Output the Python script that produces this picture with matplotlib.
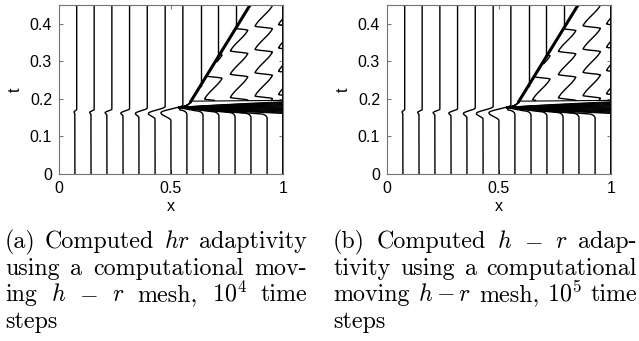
import numpy as np
import matplotlib
matplotlib.use("Agg")
import matplotlib.pyplot as plt

plt.rcParams['mathtext.fontset'] = 'cm'

# --------------------
# mesh data (x in [0,1], t in [0,0.45])
# --------------------
# node positions before the shock forms
x_start = [0.071, 0.143, 0.214, 0.286, 0.357, 0.429, 0.500,
           0.571, 0.643, 0.714, 0.786, 0.857, 0.929]
# first seven nodes survive the kink and sit here afterwards
x_after = [0.079, 0.157, 0.236, 0.315, 0.394, 0.474, 0.553]
t_kink_lo = [0.160, 0.158, 0.156, 0.154, 0.150, 0.146, 0.142]
t_kink_mid = [0.165, 0.164, 0.163, 0.162, 0.161, 0.161, 0.163]
t_kink_hi = [0.172, 0.172, 0.173, 0.174, 0.176, 0.180, 0.184]
kink_dip = [0.004, 0.006, 0.008, 0.010, 0.016, 0.030, 0.045]
# remaining six bend left into the band
t_bend = [0.158, 0.156, 0.154, 0.152, 0.150, 0.148]
bend_r = 0.03
bend_h = 0.012
# band of clustered nodes, all meeting at the tip
band_tip = (0.535, 0.177)
band_t_right = [0.161, 0.1625, 0.164, 0.1655, 0.167, 0.1685, 0.170, 0.1715,
                0.173, 0.1745, 0.176, 0.1775, 0.179, 0.1805, 0.182, 0.1835,
                0.185, 0.1865, 0.188, 0.1895, 0.191, 0.1925]
top_line_x = [0.60, 1.0]
top_line_t = [0.194, 0.196]
# shock path
shock_x = [0.585, 0.853]
shock_t = [0.190, 0.450]
foot_t = [0.190, 0.193, 0.196, 0.200, 0.205]
# nodes born behind the shock
x_behind = [0.632, 0.710, 0.789]
# zigzag nodes ahead of the shock
zig_left = [0.65, 0.765, 0.875, 0.98]
zig_width = 0.078
zig_period = 0.062
zig_phase_a = [0.200, 0.204, 0.208, 0.212]
zig_phase_b = [0.198, 0.203, 0.209, 0.214]

x_ticks = [0, 0.5, 1]
x_tick_labels = ['0', '0.5', '1']
y_ticks = [0, 0.1, 0.2, 0.3, 0.4]
y_tick_labels = ['0', '0.1', '0.2', '0.3', '0.4']

caption_a = [("(a) Computed $hr$ adaptivity", True),
             ("using a computational mov-", True),
             ("ing $h$ $-$ $r$ mesh, $10^4$ time", True),
             ("steps", False)]
caption_b = [("(b) Computed $h$ $-$ $r$ adap-", True),
             ("tivity using a computational", True),
             ("moving $h-r$ mesh, $10^5$ time", True),
             ("steps", False)]

LW = 1.0
W, H = 639, 341
TMAX = 0.45


def smooth(s):
    return 0.5 - 0.5 * np.cos(np.pi * np.clip(s, 0, 1))


def shock_at(t):
    return np.interp(t, shock_t, shock_x)


def draw_mesh(ax, zig_phase):
    tt = np.linspace(0, TMAX, 2500)

    # nodes with a small kink
    for x0, x1, ta, tb, tc, d in zip(x_start[:7], x_after, t_kink_lo,
                                     t_kink_mid, t_kink_hi, kink_dip):
        xx = np.where(tt < tb,
                      x0 - d * smooth((tt - ta) / (tb - ta)),
                      x0 - d + (x1 - x0 + d) * smooth((tt - tb) / (tc - tb)))
        ax.plot(xx, tt, color='k', lw=LW)

    # nodes bending into the band
    th = np.linspace(0, np.pi / 2, 30)
    for x0, ts in zip(x_start[7:], t_bend):
        bx = x0 - bend_r * (1 - np.cos(th))
        bt = ts + bend_h * np.sin(th)
        ax.plot(np.r_[x0, bx, band_tip[0]], np.r_[0, bt, band_tip[1]],
                color='k', lw=LW)

    # right boundary node
    ax.plot([1, 1], [0, TMAX], color='k', lw=1.4)

    # band
    for tr in band_t_right:
        s = np.linspace(0, 1, 40)
        bx = band_tip[0] + (1 - band_tip[0]) * s
        bt = band_tip[1] + (tr - band_tip[1]) * s ** 0.8
        ax.plot(bx, bt, color='k', lw=0.7)
    ax.plot(top_line_x, top_line_t, color='k', lw=0.8)

    # shock foot and shock
    s = np.linspace(0, 1, 40)
    for tf in foot_t:
        xf = shock_at(tf)
        cx, ct = xf - 0.01, band_tip[1] + 0.004
        fx = (1 - s) ** 2 * band_tip[0] + 2 * s * (1 - s) * cx + s ** 2 * xf
        ft = (1 - s) ** 2 * band_tip[1] + 2 * s * (1 - s) * ct + s ** 2 * tf
        ax.plot(fx, ft, color='k', lw=0.9)
    ax.plot(shock_x, shock_t, color='k', lw=2.2, solid_capstyle='butt')

    # nodes behind the shock
    for xb in x_behind:
        tb = np.interp(xb, shock_x, shock_t)
        ax.plot([xb, xb], [tb, TMAX], color='k', lw=LW)

    # zigzag nodes ahead of the shock: slow drift right, quick jump back
    tz = np.linspace(top_line_t[1], TMAX, 4000)
    f = 0.88
    for xl, ph in zip(zig_left, zig_phase):
        p = ((tz - ph) / zig_period) % 1.0
        xz = np.where(p < f, xl + zig_width * smooth(p / f) * 0.35 + zig_width * 0.65 * p / f,
                      xl + zig_width * (1 - smooth((p - f) / (1 - f))))
        xz = np.where(xz < shock_at(tz) + 0.008, np.nan, xz)
        ax.plot(xz, tz, color='k', lw=LW)


def style_axes(ax):
    ax.set_xlim(0, 1)
    ax.set_ylim(0, TMAX)
    ax.set_xticks(x_ticks, x_tick_labels)
    ax.set_yticks(y_ticks, y_tick_labels)
    ax.tick_params(direction='in', length=3, width=0.6, top=True, right=True,
                   labelsize=11.5, colors='0.35', labelcolor='k', pad=5)
    for lab in ax.get_xticklabels() + ax.get_yticklabels():
        lab.set_family('Liberation Sans')
    for sp in ax.spines.values():
        sp.set_color('0.45')
        sp.set_linewidth(0.8)
    ax.set_xlabel('x', family='Liberation Sans', fontsize=11.5, labelpad=2)
    ax.set_ylabel('t', family='Liberation Sans', fontsize=11.5, labelpad=5)


def put_caption(fig, lines, x0, x1, y0, step, size):
    renderer = fig.canvas.get_renderer()
    for i, (line, justify) in enumerate(lines):
        y = 1 - (y0 + i * step) / H
        words = line.split(' ')
        texts = [fig.text(0, y, w, fontsize=size, family='cmr10',
                          va='baseline', ha='left') for w in words]
        widths = [t.get_window_extent(renderer).width for t in texts]
        if justify and len(words) > 1:
            gap = (x1 - x0 - sum(widths)) / (len(words) - 1)
        else:
            gap = size * 100 / 72 * 0.33
        x = x0
        for t, w in zip(texts, widths):
            t.set_x(x / W)
            x += w + gap


fig = plt.figure(figsize=(W / 100, H / 100), dpi=100)
ax_a = fig.add_axes([59 / W, 1 - 174 / H, 224 / W, 169 / H])
ax_b = fig.add_axes([387 / W, 1 - 174 / H, 224 / W, 169 / H])
draw_mesh(ax_a, zig_phase_a)
draw_mesh(ax_b, zig_phase_b)
style_axes(ax_a)
style_axes(ax_b)

put_caption(fig, caption_a, 5, 307, 248, 26.7, 17.3)
put_caption(fig, caption_b, 333, 637, 248, 26.7, 17.3)

fig.savefig('out.png', dpi=100)
